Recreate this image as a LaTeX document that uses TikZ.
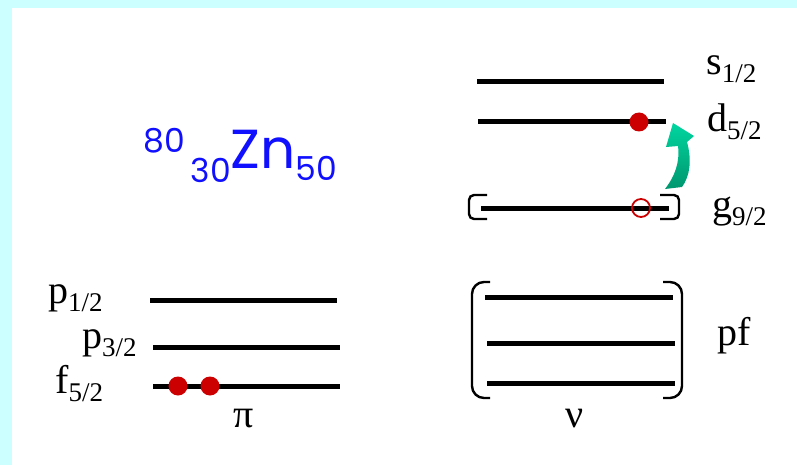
\documentclass[tikz,border=0pt]{standalone}
\usepackage{fontspec}
\setmainfont{Liberation Serif}
\newfontfamily\znfont{Poppins}
\usetikzlibrary{positioning}
\definecolor{edgecyan}{RGB}{204,255,255}
\definecolor{dotred}{RGB}{204,0,0}
\definecolor{znblue}{RGB}{16,16,255}
\definecolor{arrowlight}{RGB}{0,214,160}
\definecolor{arrowdark}{RGB}{0,150,110}
\newcommand{\lvl}[2]{#1\raisebox{-0.2em}{\fontsize{27}{27}\selectfont #2}}
\newcommand{\nucnum}[1]{{\fontsize{33}{33}\selectfont #1}}

\begin{document}
\begin{tikzpicture}[x=1pt, y=-1pt,
  level/.style={line width=5pt},
  bracket/.style={line width=2.4pt, rounded corners=5pt},
  particle/.style={circle, fill=dotred, minimum size=19pt, inner sep=0pt},
  hole/.style={circle, draw=dotred, line width=1.8pt, minimum size=18pt, inner sep=0pt},
  lbl/.style={anchor=base west, inner sep=0pt, font=\fontsize{40}{48}\selectfont},
  greek/.style={lbl, anchor=base}
]
\useasboundingbox (0,0) rectangle (797,465);
\fill[white] (0,0) rectangle (797,465);
\fill[edgecyan] (0,0) rectangle (797,8);
\fill[edgecyan] (0,0) rectangle (12,465);

\node[anchor=base west, inner sep=0pt, text=znblue, font=\znfont\fontsize{55}{60}\selectfont] (zn) at (143,168)
  {\raisebox{16pt}{\nucnum{80}}\kern6pt\raisebox{-14pt}{\nucnum{30}}Zn\raisebox{-12pt}{\nucnum{50}}};

\draw[level] (477,82) -- (664,82);
\draw[level] (478,122) -- (666,122);
\draw[level] (481,208) -- (669,208);
\draw[bracket] (487,195) -- (469,195) -- (469,219) -- (487,219);
\draw[bracket] (660,195) -- (679,195) -- (679,219) -- (660,219);

\draw[level] (150,300) -- (337,300);
\draw[level] (153,347) -- (340,347);
\draw[level] (153,386) -- (340,386);

\foreach \y/\xa in {297/485, 343/487, 383/487}
  \draw[level] (\xa,\y) -- ++(188,0);
\draw[bracket, rounded corners=12pt] (490,282) -- (472,282) -- (472,398) -- (490,398);
\draw[bracket, rounded corners=12pt] (663,282) -- (682,282) -- (682,398) -- (663,398);

\node[lbl] (s12) at (706,75) {\lvl{s}{1/2}};
\node[lbl] (d52) at (707,132) {\lvl{d}{5/2}};
\node[lbl] (g92) at (712,217) {\lvl{g}{9/2}};
\node[lbl] (p12) at (48,303) {\lvl{p}{1/2}};
\node[lbl] (p32) at (82,348) {\lvl{p}{3/2}};
\node[lbl] (f52) at (55,393) {\lvl{f}{5/2}};
\node[lbl] (pf) at (717,345) {pf};
\node[greek] (pi) at (244,427) {π};
\node[greek] (nu) at (575,427) {ν};

\node[particle] (f1) at (178,386) {};
\node[particle] (f2) at (210,386) {};
\node[particle] (d1) at (639,122) {};
\node[hole] (g1) at (641,208) {};

\shade[top color=arrowlight, bottom color=arrowdark]
  (665,189) .. controls (675,176) and (680,162) .. (678,146)
  -- (666,147) -- (673,123) -- (694,136) -- (687,142)
  .. controls (692,160) and (690,176) .. (682,187) -- cycle;
\end{tikzpicture}
\end{document}
